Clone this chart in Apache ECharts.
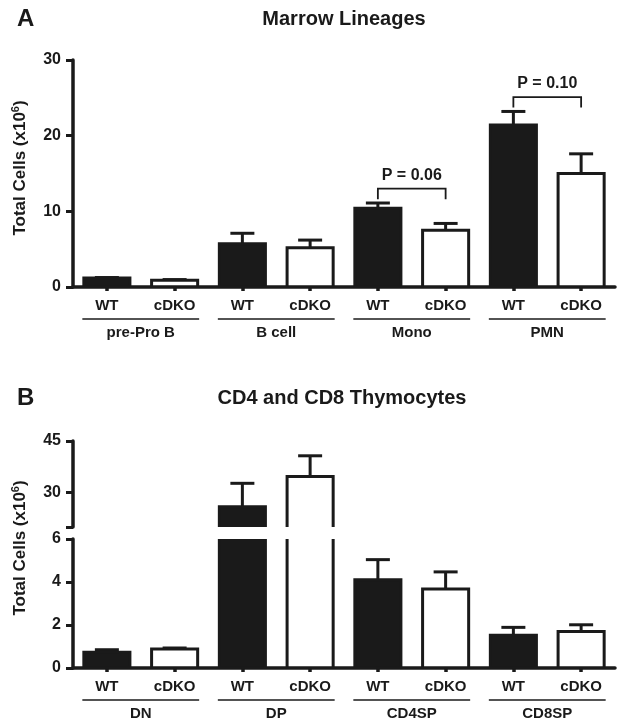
<!DOCTYPE html>
<html><head><meta charset="utf-8">
<script src="https://cdn.jsdelivr.net/npm/echarts@6/dist/echarts.min.js"></script>
<style>html,body{margin:0;padding:0;background:#fff}#c{width:624px;height:727px}</style>
</head><body><div id="c"></div>
<script>
// ---- data ----
const subLabels = ['WT', 'cDKO'];

const marrowGroups = ['pre-Pro B', 'B cell', 'Mono', 'PMN'];
const marrowWT = [1.2, 5.7, 10.4, 21.4];
const marrowWTErr = [0.05, 1.4, 0.7, 1.8];
const marrowKO = [0.9, 5.2, 7.5, 15.0];
const marrowKOErr = [0.08, 1.0, 0.9, 2.6];
const marrowTicks = [0, 10, 20, 30];

const bracketFrom = [4, 6];
const bracketTo = [5, 7];
const bracketY = [13.0, 25.1];
const bracketLabels = ['P = 0.06', 'P = 0.10'];

const thymusGroups = ['DN', 'DP', 'CD4SP', 'CD8SP'];
const thymusWT = [0.73, 25.9, 4.1, 1.52];
const thymusWTErr = [0.12, 6.8, 0.94, 0.37];
const thymusKO = [0.88, 34.7, 3.67, 1.70];
const thymusKOErr = [0.05, 6.0, 0.8, 0.31];
const thymusUpperTicks = [30, 45];
const thymusLowerTicks = [0, 2, 4, 6];

// ---- style ----
const FONT = '"Liberation Sans", Arial, Helvetica, sans-serif';
const INK = '#1a1a1a';
const BAR_FRAC = 0.68, CAP = 24, LW = 3;

function cats(groups) { return groups.flatMap(() => subLabels); }

function barSeries(xi, yi, vals, errs, offset, fill) {
  return {
    type: 'custom', xAxisIndex: xi, yAxisIndex: yi, clip: true, silent: true, z: 2,
    data: vals.map((v, g) => [2 * g + offset, v, errs[g]]),
    renderItem: (params, api) => {
      const i = api.value(0), v = api.value(1), e = api.value(2);
      const b = api.coord([i, 0]), t = api.coord([i, v]), et = api.coord([i, v + e]);
      const bw = api.size([1, 0])[0] * BAR_FRAC;
      const x0 = b[0] - bw / 2, x1 = b[0] + bw / 2;
      return { type: 'group', children: [
        { type: 'line', shape: { x1: b[0], y1: t[1], x2: b[0], y2: et[1] }, style: { stroke: INK, lineWidth: LW } },
        { type: 'line', shape: { x1: b[0] - CAP / 2, y1: et[1], x2: b[0] + CAP / 2, y2: et[1] }, style: { stroke: INK, lineWidth: LW } },
        { type: 'rect', shape: { x: x0, y: t[1], width: bw, height: b[1] - t[1] }, style: { fill: fill } },
        { type: 'polyline', shape: { points: [[x0, b[1]], [x0, t[1]], [x1, t[1]], [x1, b[1]]] }, style: { stroke: INK, lineWidth: LW, fill: 'none', lineJoin: 'miter' } }
      ]};
    }
  };
}

function groupSeries(xi, yi, groups) {
  return {
    type: 'custom', xAxisIndex: xi, yAxisIndex: yi, clip: false, silent: true, z: 3,
    data: groups.map((n, g) => [2 * g, 0, 2 * g + 1]),
    renderItem: (params, api) => {
      const a = api.coord([api.value(0), 0]), c = api.coord([api.value(2), 0]);
      const hw = api.size([1, 0])[0] * BAR_FRAC / 2 + LW / 2;
      const y = a[1];
      return { type: 'group', children: [
        { type: 'line', shape: { x1: a[0] - hw, y1: y + 32, x2: c[0] + hw, y2: y + 32 }, style: { stroke: INK, lineWidth: 1.7 } },
        { type: 'text', x: (a[0] + c[0]) / 2, y: y + 45.5, style: { text: groups[params.dataIndex], fill: INK, font: 'bold 15px ' + FONT, align: 'center', verticalAlign: 'middle' } }
      ]};
    }
  };
}

function bracketSeries(xi, yi) {
  return {
    type: 'custom', xAxisIndex: xi, yAxisIndex: yi, clip: false, silent: true, z: 3,
    data: bracketFrom.map((f, k) => [f, bracketY[k], bracketTo[k]]),
    renderItem: (params, api) => {
      const p = api.coord([api.value(0), api.value(1)]), q = api.coord([api.value(2), api.value(1)]);
      return { type: 'group', children: [
        { type: 'polyline', shape: { points: [[p[0], p[1] + 10.5], [p[0], p[1]], [q[0], p[1]], [q[0], p[1] + 10.5]] }, style: { stroke: INK, lineWidth: 1.8, fill: 'none' } },
        { type: 'text', x: (p[0] + q[0]) / 2, y: p[1] - 13.5, style: { text: bracketLabels[params.dataIndex], fill: INK, font: 'bold 16px ' + FONT, align: 'center', verticalAlign: 'middle' } }
      ]};
    }
  };
}

function xAxisDef(gi, groups, show) {
  return {
    type: 'category', gridIndex: gi, data: cats(groups), z: 5, show: show,
    axisLine: { show: true, lineStyle: { color: INK, width: 3.5 } },
    axisTick: { show: true, alignWithLabel: true, length: 4, lineStyle: { color: INK, width: 3.5 } },
    axisLabel: { color: INK, fontFamily: FONT, fontWeight: 'bold', fontSize: 15, margin: 11, interval: 0 },
    splitLine: { show: false }
  };
}

const Y_LABEL = { color: INK, fontFamily: FONT, fontWeight: 'bold', fontSize: 16, margin: 12 };
const Y_TICK = { show: true, length: 7, lineStyle: { color: INK, width: 3 } };

function yAxisDef(gi, min, max, interval, extra) {
  return Object.assign({
    type: 'value', gridIndex: gi, min: min, max: max, interval: interval, z: 5,
    axisLine: { show: true, lineStyle: { color: INK, width: 3.5 } },
    axisTick: Y_TICK,
    axisLabel: Y_LABEL,
    splitLine: { show: false }
  }, extra || {});
}

function yName(x, y) {
  return {
    type: 'text', x: x, y: y, rotation: Math.PI / 2,
    style: {
      text: '{n|Total Cells (x10}{s|6}{n|)}',
      align: 'center', verticalAlign: 'middle',
      rich: {
        n: { fontFamily: FONT, fontWeight: 'bold', fontSize: 17, fill: INK, color: INK },
        s: { fontFamily: FONT, fontWeight: 'bold', fontSize: 11, fill: INK, color: INK, padding: [0, 0, 8, 0] }
      }
    }
  };
}

function txt(x, y, s, size, align) {
  return { type: 'text', x: x, y: y, style: { text: s, fill: INK, font: 'bold ' + size + 'px ' + FONT, align: align, verticalAlign: 'middle' } };
}

const chart = echarts.init(document.getElementById('c'), null, { renderer: 'canvas' });
chart.setOption({
  animation: false,
  backgroundColor: '#fff',
  grid: [
    { left: 73, top: 60, width: 542, height: 227 },
    { left: 73, top: 441, width: 542, height: 86 },
    { left: 73, top: 539, width: 542, height: 129 }
  ],
  xAxis: [
    xAxisDef(0, marrowGroups, true),
    xAxisDef(1, thymusGroups, false),
    xAxisDef(2, thymusGroups, true)
  ],
  yAxis: [
    yAxisDef(0, marrowTicks[0], marrowTicks[marrowTicks.length - 1], 10),
    yAxisDef(1, 20, 45, 5, {
      axisTick: Object.assign({}, Y_TICK, { customValues: [20].concat(thymusUpperTicks) }),
      axisLabel: Object.assign({}, Y_LABEL, { customValues: thymusUpperTicks })
    }),
    yAxisDef(2, thymusLowerTicks[0], thymusLowerTicks[thymusLowerTicks.length - 1], 2)
  ],
  series: [
    barSeries(0, 0, marrowWT, marrowWTErr, 0, INK),
    barSeries(0, 0, marrowKO, marrowKOErr, 1, '#fff'),
    bracketSeries(0, 0),
    groupSeries(0, 0, marrowGroups),
    barSeries(1, 1, thymusWT, thymusWTErr, 0, INK),
    barSeries(1, 1, thymusKO, thymusKOErr, 1, '#fff'),
    barSeries(2, 2, thymusWT, thymusWTErr, 0, INK),
    barSeries(2, 2, thymusKO, thymusKOErr, 1, '#fff'),
    groupSeries(2, 2, thymusGroups)
  ],
  graphic: [
    txt(17, 19, 'A', 24, 'left'),
    txt(344, 19, 'Marrow Lineages', 20, 'center'),
    txt(17, 398, 'B', 24, 'left'),
    txt(342, 398, 'CD4 and CD8 Thymocytes', 20, 'center'),
    yName(20, 168),
    yName(20, 548)
  ]
});
</script></body></html>
